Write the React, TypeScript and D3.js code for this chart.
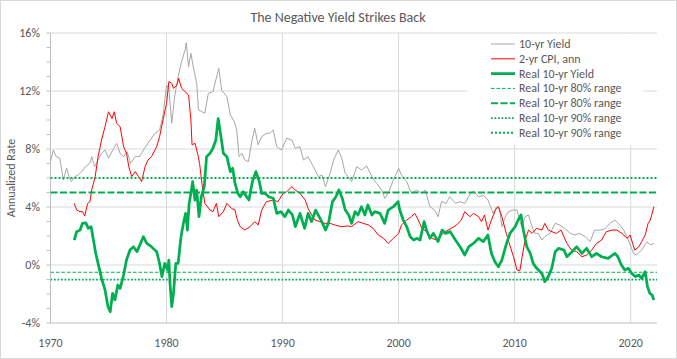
import React from "react";
import * as d3 from "d3";

const yieldYears = [1970.0,1970.25,1970.5,1970.8,1971.1,1971.4,1971.6,1971.8,1972.1,1972.4,1972.7,1973.0,1973.4,1973.55,1973.8,1974.1,1974.4,1974.7,1975.0,1975.3,1975.7,1976.0,1976.3,1976.6,1976.9,1977.3,1977.7,1978.1,1978.6,1979.0,1979.4,1979.7,1980.0,1980.2,1980.45,1980.7,1981.0,1981.3,1981.6,1981.7,1981.9,1982.1,1982.3,1982.6,1982.75,1983.0,1983.3,1983.6,1984.0,1984.25,1984.5,1984.75,1985.2,1985.5,1985.85,1986.05,1986.25,1986.5,1986.75,1987.05,1987.35,1987.6,1987.9,1988.2,1988.6,1988.9,1989.2,1989.5,1989.9,1990.35,1990.8,1991.1,1991.5,1991.8,1992.2,1992.65,1993.1,1993.4,1993.7,1994.1,1994.4,1994.8,1995.1,1995.4,1995.65,1995.95,1996.4,1996.8,1997.25,1997.7,1998.1,1998.55,1998.8,1999.1,1999.55,2000.0,2000.25,2000.7,2001.1,2001.55,2002.0,2002.3,2002.7,2003.1,2003.4,2003.7,2004.1,2004.4,2004.9,2005.3,2005.7,2006.2,2006.45,2006.9,2007.3,2007.7,2008.15,2008.45,2008.7,2008.9,2009.2,2009.45,2009.9,2010.2,2010.6,2010.9,2011.2,2011.5,2011.75,2012.05,2012.35,2012.6,2013.05,2013.5,2013.9,2014.3,2014.8,2015.2,2015.6,2016.1,2016.5,2016.9,2017.35,2017.8,2018.2,2018.65,2018.95,2019.4,2019.8,2020.25,2020.5,2020.95,2021.4,2021.7,2022.0];
const yieldValues = [7.13,7.93,7.47,7.36,5.86,6.67,6.09,5.75,6.09,6.21,6.44,6.78,7.01,7.47,6.78,7.24,7.7,7.93,7.36,7.82,8.39,7.7,7.47,7.82,7.01,7.47,7.5,8.05,8.62,9.08,9.31,10.34,12.41,12.18,9.77,11.61,12.99,14.02,14.83,15.33,13.68,14.6,13.68,12.53,10.69,10.6,10.46,11.84,11.95,12.76,13.56,12.07,11.61,10.34,9.89,9.31,7.47,7.7,7.24,7.13,8.51,9.43,8.28,8.85,9.08,9.08,9.31,8.16,7.93,8.74,8.62,8.05,8.16,7.24,7.47,6.78,6.09,6.21,5.4,6.32,7.24,7.93,7.36,6.32,6.09,5.75,6.78,6.55,6.83,6.09,5.63,5.17,4.6,4.94,5.86,6.67,6.21,5.75,4.94,5.17,4.94,5.17,4.02,3.79,3.33,4.37,4.25,4.71,4.25,4.37,4.25,4.94,5.1,4.71,4.8,4.48,3.56,4.02,3.9,2.64,3.33,3.68,3.79,3.79,2.64,3.33,3.45,2.64,2.18,2.18,1.72,1.95,2.18,2.87,2.76,2.53,2.18,2.07,2.18,1.95,1.61,2.41,2.4,2.5,2.87,3.1,2.87,2.41,1.72,0.8,0.69,1.03,1.61,1.38,1.49];

const cpiYears = [1972.05,1972.25,1972.55,1972.75,1972.95,1973.2,1973.4,1973.55,1973.85,1974.1,1974.4,1974.7,1975.0,1975.3,1975.5,1975.7,1976.0,1976.3,1976.55,1976.75,1977.0,1977.3,1977.6,1977.85,1978.15,1978.4,1978.7,1979.15,1979.4,1979.7,1980.0,1980.2,1980.45,1980.6,1980.9,1981.05,1981.3,1981.6,1981.9,1982.1,1982.2,1982.45,1982.7,1982.85,1983.05,1983.3,1983.75,1984.0,1984.3,1984.5,1984.9,1985.2,1985.6,1985.9,1986.1,1986.35,1986.75,1987.2,1987.6,1987.9,1988.2,1988.6,1989.2,1989.6,1990.05,1990.35,1990.8,1991.1,1991.5,1991.95,1992.2,1992.5,1992.8,1993.2,1993.65,1994.1,1994.5,1995.1,1995.65,1995.95,1996.5,1996.95,1997.4,1997.8,1998.25,1998.7,1999.1,1999.55,2000.0,2000.25,2000.7,2001.1,2001.4,2001.7,2002.0,2002.4,2002.85,2003.3,2003.55,2004.0,2004.55,2005.0,2005.4,2005.7,2006.15,2006.45,2006.9,2007.15,2007.4,2007.7,2008.0,2008.35,2008.6,2008.9,2009.2,2009.45,2009.9,2010.2,2010.45,2010.65,2010.9,2011.2,2011.5,2011.9,2012.35,2012.6,2012.9,2013.2,2013.6,2014.0,2014.5,2014.9,2015.35,2015.8,2016.2,2016.65,2017.05,2017.5,2017.9,2018.4,2018.8,2019.25,2019.7,2019.95,2020.35,2020.7,2020.95,2021.25,2021.5,2021.7,2022.0];
const cpiValues = [4.25,3.79,3.68,3.68,3.38,4.25,4.37,5.17,6.09,7.47,8.62,9.54,10.57,10.1,10.57,9.77,9.54,8.16,7.7,6.78,6.09,6.44,6.09,5.75,6.78,7.24,7.47,8.16,8.85,10.0,11.15,12.64,12.53,12.18,12.41,12.87,12.18,11.95,11.72,10.0,8.28,8.4,7.6,7.0,5.63,4.25,3.79,3.68,4.25,3.33,3.68,4.25,3.9,3.79,3.1,2.64,2.41,2.64,2.99,2.76,3.79,4.37,4.48,4.37,4.94,5.05,5.4,5.17,4.94,4.48,3.9,3.45,3.1,2.99,2.87,2.87,2.76,2.64,2.7,2.64,2.99,2.87,2.76,2.53,2.07,1.84,1.49,1.84,2.18,2.76,3.1,3.33,3.56,3.1,2.53,2.3,1.84,1.72,1.95,2.3,2.53,2.76,3.1,3.68,3.33,3.56,3.33,2.99,3.45,2.41,3.1,3.8,4.02,3.33,2.41,1.72,0.57,-0.35,-0.4,0.57,1.72,2.41,2.18,2.53,2.41,2.87,2.41,2.3,2.18,2.41,1.49,1.03,0.92,0.57,0.69,1.03,1.49,1.72,2.3,2.41,2.41,2.18,1.84,2.07,1.03,1.26,1.61,2.07,2.87,3.1,4.02];

const realYears = [1972.05,1972.25,1972.55,1972.75,1973.05,1973.25,1973.5,1973.7,1973.9,1974.1,1974.4,1974.7,1974.95,1975.15,1975.35,1975.55,1975.8,1976.0,1976.3,1976.55,1976.85,1977.15,1977.45,1977.7,1978.0,1978.3,1978.7,1979.15,1979.4,1979.6,1979.85,1980.1,1980.2,1980.3,1980.45,1980.6,1980.8,1981.0,1981.25,1981.45,1981.65,1981.8,1981.95,1982.1,1982.25,1982.45,1982.6,1982.8,1983.0,1983.25,1983.45,1983.75,1984.0,1984.25,1984.45,1984.65,1984.9,1985.2,1985.5,1985.7,1985.9,1986.15,1986.35,1986.6,1986.9,1987.1,1987.4,1987.7,1988.0,1988.2,1988.5,1988.8,1989.2,1989.5,1989.85,1990.2,1990.5,1990.85,1991.1,1991.5,1991.9,1992.2,1992.5,1992.85,1993.15,1993.45,1993.7,1993.95,1994.3,1994.6,1994.85,1995.15,1995.4,1995.7,1995.95,1996.25,1996.5,1996.8,1997.1,1997.35,1997.7,1997.95,1998.4,1998.8,1999.1,1999.55,1999.95,2000.1,2000.4,2000.7,2001.0,2001.3,2001.55,2001.85,2002.2,2002.4,2002.7,2003.0,2003.4,2003.75,2004.05,2004.45,2004.9,2005.3,2005.7,2006.05,2006.45,2006.9,2007.3,2007.7,2008.0,2008.3,2008.6,2008.9,2009.3,2009.6,2010.05,2010.3,2010.55,2010.75,2011.05,2011.35,2011.6,2011.9,2012.35,2012.6,2012.9,2013.2,2013.5,2013.8,2014.25,2014.5,2014.95,2015.35,2015.8,2016.2,2016.65,2017.05,2017.5,2018.05,2018.65,2018.9,2019.2,2019.5,2019.8,2020.1,2020.4,2020.7,2020.95,2021.25,2021.45,2021.65,2021.85,2022.0];
const realValues = [1.72,2.3,2.41,2.87,2.91,2.53,2.64,1.72,0.8,0.11,-0.92,-1.72,-2.87,-3.22,-1.95,-2.41,-1.38,-1.61,-0.69,0.34,1.03,1.26,0.92,1.38,1.95,1.49,1.26,0.92,0.11,-0.8,0.11,-0.35,0.34,-1.26,-2.87,-1.95,0.11,0.11,1.95,2.87,3.56,2.41,4.25,4.94,5.75,4.48,5.17,3.33,4.71,5.4,7.47,7.7,8.05,8.62,10.1,9.08,7.7,7.47,6.44,6.67,5.63,4.94,4.71,5.05,4.71,4.48,5.75,6.44,5.75,4.94,4.94,4.71,4.6,3.56,3.68,3.33,3.79,3.45,2.64,3.56,2.53,3.56,2.99,3.79,3.33,2.87,2.41,2.87,4.37,4.71,5.17,4.6,3.79,3.45,2.87,3.68,3.45,4.02,3.45,4.14,3.45,3.68,3.56,2.87,3.79,4.02,4.37,3.79,3.1,2.64,1.95,1.72,1.84,1.72,2.99,2.41,1.84,2.18,1.61,2.41,2.18,2.3,1.72,1.26,0.69,1.26,1.49,1.84,1.61,2.07,0.8,0.23,-0.12,0.34,1.49,2.18,2.64,3.1,3.45,2.41,1.26,0.8,0.11,-0.23,-0.58,-1.15,-0.8,-0.23,0.92,1.15,1.03,0.57,0.92,1.26,0.8,1.15,0.57,0.8,0.57,0.46,0.8,0.57,0.0,-0.35,-0.23,-0.58,-0.8,-0.69,-0.92,-0.46,-1.49,-1.95,-2.07,-2.41];

const range80Levels = [-0.5, 5];
const range90Levels = [-1, 6];
const yTicks = [-4, 0, 4, 8, 12, 16];
const xTicks = [1970, 1980, 1990, 2000, 2010, 2020];
const legendLabels = ["10-yr Yield", "2-yr CPI, ann", "Real 10-yr Yield", "Real 10-yr 80% range", "Real 10-yr 80% range", "Real 10-yr 90% range", "Real 10-yr 90% range"];

const W = 677, H = 359;
const FONT = "Carlito, Calibri, Lato, sans-serif";
const TXT = "#595959";
const GREEN = "#00b050";

export default function App() {
  const x = d3.scaleLinear().domain([1970, 2022.27]).range([50.5, 657]);
  const y = d3.scaleLinear().domain([-4, 16]).range([323, 33]);
  const mk = (xs: number[], vs: number[]) =>
    d3.line<number>().x((_, i) => x(xs[i])).y((v) => y(v))(vs) || "";

  const [x0, x1] = x.range();
  const minor = d3.range(-4, 16.5, 1);

  const styles = [
    { stroke: "#a6a6a6", width: 1, dash: "" },
    { stroke: "#ff0000", width: 1, dash: "" },
    { stroke: GREEN, width: 2.75, dash: "" },
    { stroke: GREEN, width: 1, dash: "3.5,2" },
    { stroke: GREEN, width: 2, dash: "7,2.5" },
    { stroke: GREEN, width: 1.75, dash: "1.75,1.75" },
    { stroke: GREEN, width: 2, dash: "2,2" },
  ];
  const rangeLines = [
    { v: range80Levels[0], s: styles[3] },
    { v: range80Levels[1], s: styles[4] },
    { v: range90Levels[0], s: styles[5] },
    { v: range90Levels[1], s: styles[6] },
  ];

  return (
    <div style={{ position: "fixed", left: 0, top: 0 }}>
      <svg width={W} height={H} style={{ display: "block", background: "#fff" }}>
        <rect x={0.5} y={0.5} width={W - 1} height={H - 1} fill="#fff" stroke="#d9d9d9" />
        <text x={338} y={22} textAnchor="middle" fontFamily={FONT} fontSize={14} fill={TXT}>
          The Negative Yield Strikes Back
        </text>
        <text transform={`translate(15,${178}) rotate(-90)`} textAnchor="middle" fontFamily={FONT} fontSize={12} fill={TXT}>
          Annualized Rate
        </text>
        <defs>
          <clipPath id="plotclip">
            <rect x={x0} y={y(16) - 2} width={x1 - x0} height={y(-4) - y(16) + 4} />
          </clipPath>
        </defs>
        {yTicks.filter((t) => t > -4).map((t) => (
          <line key={"h" + t} x1={x0} x2={x1} y1={y(t)} y2={y(t)} stroke="#d9d9d9" strokeWidth={1} />
        ))}
        {xTicks.filter((t) => t > 1970).map((t) => (
          <line key={"v" + t} x1={x(t)} x2={x(t)} y1={y(16)} y2={y(-4)} stroke="#d9d9d9" strokeWidth={1} />
        ))}
        <line x1={x0} x2={x0} y1={y(16)} y2={y(-4)} stroke="#bfbfbf" strokeWidth={1} />
        {minor.map((t) => (
          <line key={"m" + t} x1={x0 - 4} x2={x0} y1={y(t)} y2={y(t)} stroke="#bfbfbf" strokeWidth={1} />
        ))}
        <line x1={x0} x2={x1} y1={y(-4)} y2={y(-4)} stroke="#bfbfbf" strokeWidth={1} />
        {yTicks.map((t) => (
          <text key={"yl" + t} x={40} y={y(t) + 4} textAnchor="end" fontFamily={FONT} fontSize={12} fill={TXT}>
            {t}%
          </text>
        ))}
        {xTicks.map((t) => (
          <text key={"xl" + t} x={x(t)} y={347} textAnchor="middle" fontFamily={FONT} fontSize={12} fill={TXT}>
            {t}
          </text>
        ))}
        <g clipPath="url(#plotclip)" fill="none" strokeLinejoin="round">
          <path d={mk(yieldYears, yieldValues)} stroke={styles[0].stroke} strokeWidth={styles[0].width} />
          <path d={mk(cpiYears, cpiValues)} stroke={styles[1].stroke} strokeWidth={styles[1].width} />
          <path d={mk(realYears, realValues)} stroke={styles[2].stroke} strokeWidth={styles[2].width} />
          {rangeLines.map((r, i) => (
            <line key={"r" + i} x1={x0} x2={x1} y1={y(r.v)} y2={y(r.v)} stroke={r.s.stroke} strokeWidth={r.s.width} strokeDasharray={r.s.dash} />
          ))}
        </g>
        <g>
          <rect x={467} y={34} width={176} height={111} fill="#fff" />
          {legendLabels.map((lab, i) => {
            const ly = 44 + i * 14.8;
            const s = styles[i];
            return (
              <g key={"lg" + i}>
                <line x1={491} x2={515} y1={ly} y2={ly} stroke={s.stroke} strokeWidth={s.width} strokeDasharray={s.dash} />
                <text x={519} y={ly + 4} fontFamily={FONT} fontSize={12} fill={TXT}>
                  {lab}
                </text>
              </g>
            );
          })}
        </g>
      </svg>
    </div>
  );
}
